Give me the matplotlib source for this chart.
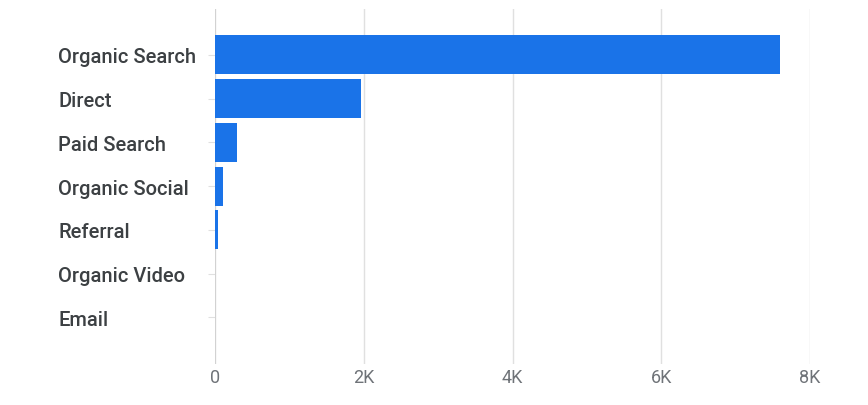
import matplotlib
matplotlib.use("Agg")
import matplotlib.pyplot as plt

categories = ["Organic Search", "Direct", "Paid Search", "Organic Social",
              "Referral", "Organic Video", "Email"]
sessions = [7600, 1960, 300, 110, 40, 3, 1]
x_ticks = [0, 2000, 4000, 6000, 8000]
x_tick_labels = ["0", "2K", "4K", "6K", "8K"]

plt.rcParams['font.family'] = ['Roboto', 'DejaVu Sans']

fig = plt.figure(figsize=(8.68, 4.06), dpi=100)
ax = fig.add_axes([215/868, 1-365/406, (810-215)/868, (365-10)/406])

y = list(range(len(categories)))
ax.barh(y, sessions, height=0.89, color="#1a73e8", zorder=3)

ax.set_xlim(0, 8000)
ax.set_ylim(7.07, -1.05)
ax.set_xticks(x_ticks)
ax.set_xticklabels(x_tick_labels)
ax.set_yticks(y)
ax.set_yticklabels(categories, ha="left", fontweight=500)

for s in ax.spines.values():
    s.set_visible(False)

ax.grid(axis="x", color="#e0e0e0", linewidth=1, zorder=0)
ax.axvline(0, color="#d0d0d0", linewidth=1.2, zorder=2)

ax.tick_params(axis="x", length=0, pad=3, labelsize=13, labelcolor="#6f7378")
ax.tick_params(axis="y", length=5, width=0.8, color="#e0e0e0", pad=108,
               labelsize=14.5, labelcolor="#3c4043")

fig.savefig("out.png", dpi=100, facecolor="white")
